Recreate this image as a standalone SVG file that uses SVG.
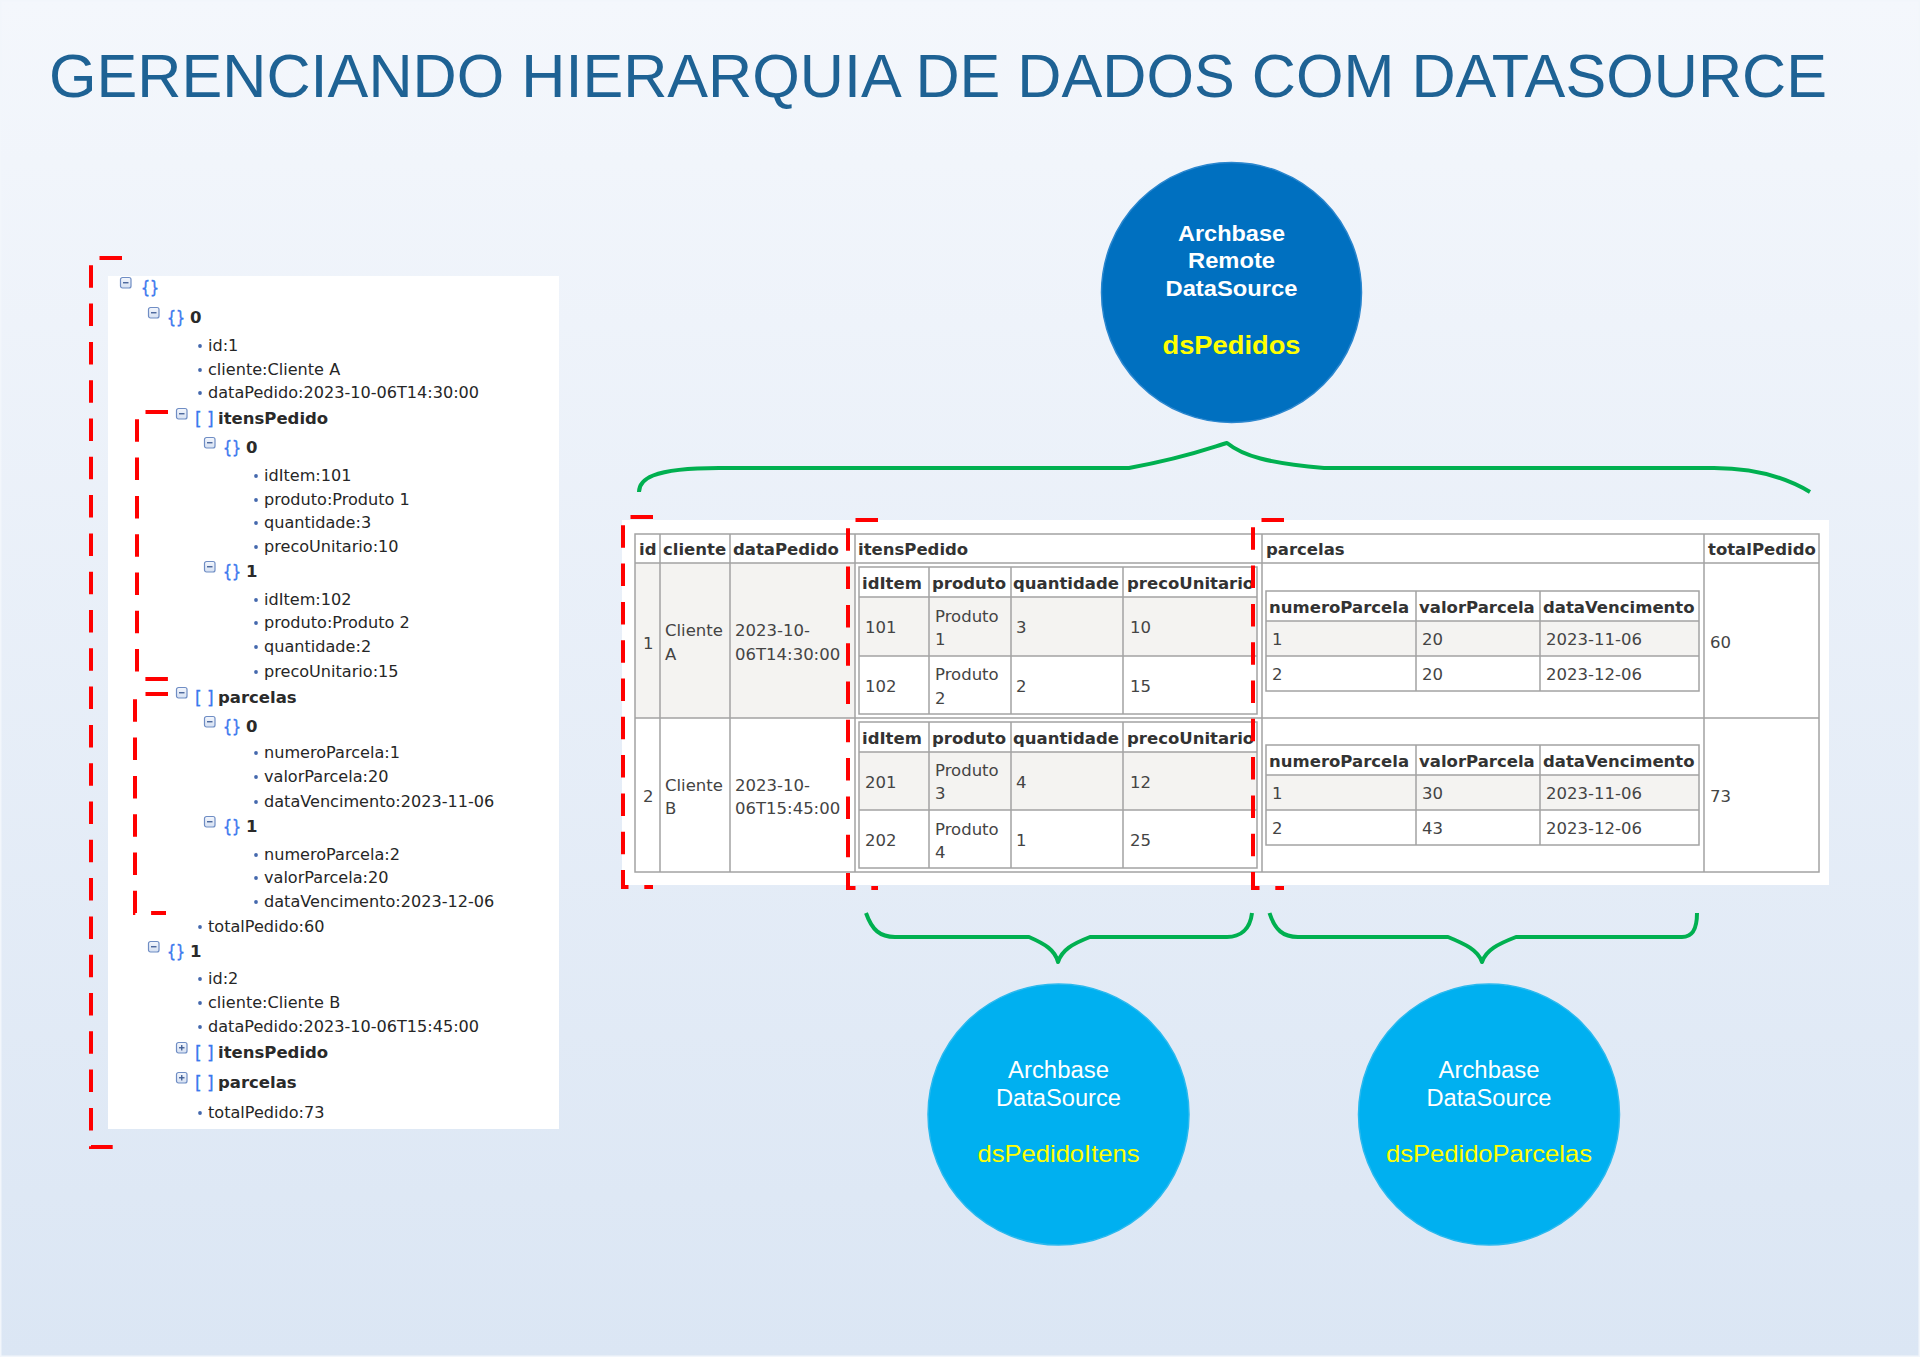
<svg xmlns="http://www.w3.org/2000/svg" xmlns:xlink="http://www.w3.org/1999/xlink" width="1920" height="1357" viewBox="0 0 1920 1357">
<defs>
<linearGradient id="bg" x1="0" y1="0" x2="0" y2="1">
<stop offset="0" stop-color="#F4F7FC"/>
<stop offset="1" stop-color="#DBE6F4"/>
</linearGradient>
<linearGradient id="tg" x1="0" y1="0" x2="0" y2="1">
<stop offset="0" stop-color="#F4F7FD"/>
<stop offset="1" stop-color="#D5E0F2"/>
</linearGradient>
<g id="tmin"><rect x="0.5" y="0.5" width="10.5" height="10.5" rx="2" fill="url(#tg)" stroke="#6F8DC4" stroke-width="1.2"/><line x1="3" y1="5.75" x2="8.5" y2="5.75" stroke="#3E5C94" stroke-width="1.3"/></g>
<g id="tplus"><rect x="0.5" y="0.5" width="10.5" height="10.5" rx="2" fill="url(#tg)" stroke="#6F8DC4" stroke-width="1.2"/><line x1="3" y1="5.75" x2="8.5" y2="5.75" stroke="#3E5C94" stroke-width="1.3"/><line x1="5.75" y1="3" x2="5.75" y2="8.5" stroke="#3E5C94" stroke-width="1.3"/></g>
<circle id="dot" r="1.9" fill="#4468AD"/>
</defs>
<style>
.title{font-family:"Liberation Sans",Arial,sans-serif;font-size:61px;fill:#1E6294}
.tv{font-family:"DejaVu Sans",Verdana,sans-serif;font-size:16.1px;fill:#262626}
.tb{font-family:"DejaVu Sans",Verdana,sans-serif;font-size:16.5px;font-weight:bold;fill:#2A2A2A}
.cb{font-family:"DejaVu Sans",Verdana,sans-serif;font-size:18px;fill:#3A78EE;stroke:#3A78EE;stroke-width:0.5}
.sb{font-family:"DejaVu Sans",Verdana,sans-serif;font-size:17px;fill:#3A78EE;stroke:#3A78EE;stroke-width:0.3}
.th{font-family:"DejaVu Sans",Verdana,sans-serif;font-size:16.5px;font-weight:bold;fill:#333}
.td{font-family:"DejaVu Sans",Verdana,sans-serif;font-size:16.5px;fill:#444}
.grid{fill:none;stroke:#A3A3A3;stroke-width:1.5}
.alt{fill:#F4F3F1}
.red{fill:none;stroke:#FF0000;stroke-width:4;stroke-dasharray:22.5 15.8}
.brace{fill:none;stroke:#00B050;stroke-width:4;stroke-linejoin:round}
.wt{font-family:"Liberation Sans",Arial,sans-serif;font-size:22px;font-weight:bold;fill:#FFFFFF;text-anchor:middle}
.wr{font-family:"Liberation Sans",Arial,sans-serif;font-size:23.5px;fill:#FFFFFF;text-anchor:middle}
.yl{font-family:"Liberation Sans",Arial,sans-serif;fill:#FFFF00;text-anchor:middle}
</style>

<rect x="0" y="0" width="1920" height="1357" fill="url(#bg)"/>
<rect x="0.75" y="0.75" width="1918.5" height="1355.5" fill="none" stroke="#F2F6FB" stroke-width="1.5"/>

<g id="title">
<text class="title" x="49" y="97" textLength="1778" lengthAdjust="spacingAndGlyphs">GERENCIANDO HIERARQUIA DE DADOS COM DATASOURCE</text>
</g>

<g id="json-tree">
<rect x="108" y="276" width="451" height="853" fill="#FFFFFF"/>
<use href="#tmin" x="120" y="277"/><text class="cb" x="141" y="294" textLength="18" lengthAdjust="spacingAndGlyphs">{}</text>
<use href="#tmin" x="148" y="307"/><text class="cb" x="167" y="324" textLength="18" lengthAdjust="spacingAndGlyphs">{}</text><text class="tb" x="190" y="323">0</text>
<use href="#dot" x="200" y="346"/><text class="tv" x="208" y="351">id:1</text>
<use href="#dot" x="200" y="370"/><text class="tv" x="208" y="375">cliente:Cliente A</text>
<use href="#dot" x="200" y="393"/><text class="tv" x="208" y="398">dataPedido:2023-10-06T14:30:00</text>
<use href="#tmin" x="176" y="408"/><text class="sb" x="195" y="425">[ ]</text><text class="tb" x="218" y="424">itensPedido</text>
<use href="#tmin" x="204" y="437"/><text class="cb" x="223" y="454" textLength="18" lengthAdjust="spacingAndGlyphs">{}</text><text class="tb" x="246" y="453">0</text>
<use href="#dot" x="256" y="476"/><text class="tv" x="264" y="481">idItem:101</text>
<use href="#dot" x="256" y="500"/><text class="tv" x="264" y="505">produto:Produto 1</text>
<use href="#dot" x="256" y="523"/><text class="tv" x="264" y="528">quantidade:3</text>
<use href="#dot" x="256" y="547"/><text class="tv" x="264" y="552">precoUnitario:10</text>
<use href="#tmin" x="204" y="561"/><text class="cb" x="223" y="578" textLength="18" lengthAdjust="spacingAndGlyphs">{}</text><text class="tb" x="246" y="577">1</text>
<use href="#dot" x="256" y="600"/><text class="tv" x="264" y="605">idItem:102</text>
<use href="#dot" x="256" y="623"/><text class="tv" x="264" y="628">produto:Produto 2</text>
<use href="#dot" x="256" y="647"/><text class="tv" x="264" y="652">quantidade:2</text>
<use href="#dot" x="256" y="672"/><text class="tv" x="264" y="677">precoUnitario:15</text>
<use href="#tmin" x="176" y="687"/><text class="sb" x="195" y="704">[ ]</text><text class="tb" x="218" y="703">parcelas</text>
<use href="#tmin" x="204" y="716"/><text class="cb" x="223" y="733" textLength="18" lengthAdjust="spacingAndGlyphs">{}</text><text class="tb" x="246" y="732">0</text>
<use href="#dot" x="256" y="753"/><text class="tv" x="264" y="758">numeroParcela:1</text>
<use href="#dot" x="256" y="777"/><text class="tv" x="264" y="782">valorParcela:20</text>
<use href="#dot" x="256" y="802"/><text class="tv" x="264" y="807">dataVencimento:2023-11-06</text>
<use href="#tmin" x="204" y="816"/><text class="cb" x="223" y="833" textLength="18" lengthAdjust="spacingAndGlyphs">{}</text><text class="tb" x="246" y="832">1</text>
<use href="#dot" x="256" y="855"/><text class="tv" x="264" y="860">numeroParcela:2</text>
<use href="#dot" x="256" y="878"/><text class="tv" x="264" y="883">valorParcela:20</text>
<use href="#dot" x="256" y="902"/><text class="tv" x="264" y="907">dataVencimento:2023-12-06</text>
<use href="#dot" x="200" y="927"/><text class="tv" x="208" y="932">totalPedido:60</text>
<use href="#tmin" x="148" y="941"/><text class="cb" x="167" y="958" textLength="18" lengthAdjust="spacingAndGlyphs">{}</text><text class="tb" x="190" y="957">1</text>
<use href="#dot" x="200" y="979"/><text class="tv" x="208" y="984">id:2</text>
<use href="#dot" x="200" y="1003"/><text class="tv" x="208" y="1008">cliente:Cliente B</text>
<use href="#dot" x="200" y="1027"/><text class="tv" x="208" y="1032">dataPedido:2023-10-06T15:45:00</text>
<use href="#tplus" x="176" y="1042"/><text class="sb" x="195" y="1059">[ ]</text><text class="tb" x="218" y="1058">itensPedido</text>
<use href="#tplus" x="176" y="1072"/><text class="sb" x="195" y="1089">[ ]</text><text class="tb" x="218" y="1088">parcelas</text>
<use href="#dot" x="200" y="1113"/><text class="tv" x="208" y="1118">totalPedido:73</text>
</g>

<g id="data-table">
<rect x="622" y="520" width="1207" height="365" fill="#FFFFFF"/>
<rect class="alt" x="635" y="563" width="220" height="155"/>
<rect class="alt" x="859" y="597" width="398" height="59"/>
<rect class="alt" x="859" y="752" width="398" height="58"/>
<rect class="alt" x="1266" y="621" width="433" height="35"/>
<rect class="alt" x="1266" y="775" width="433" height="35"/>
<g class="grid">
<rect x="635" y="534" width="1184" height="338"/>
<path d="M635,563H1819M635,718H1819M660,534V872M730,534V872M855,534V872M1262,534V872M1704,534V872"/>
<rect x="859" y="567" width="398" height="147"/>
<path d="M859,597H1257M859,656H1257M929,567V714M1011,567V714M1123,567V714"/>
<rect x="859" y="722" width="398" height="146"/>
<path d="M859,752H1257M859,810H1257M929,722V868M1011,722V868M1123,722V868"/>
<rect x="1266" y="591" width="433" height="100"/>
<path d="M1266,621H1699M1266,656H1699M1416,591V691M1540,591V691"/>
<rect x="1266" y="745" width="433" height="100"/>
<path d="M1266,775H1699M1266,810H1699M1416,745V845M1540,745V845"/>
</g>
<text class="th" x="639" y="555">id</text>
<text class="th" x="663" y="555">cliente</text>
<text class="th" x="733" y="555">dataPedido</text>
<text class="th" x="858" y="555">itensPedido</text>
<text class="th" x="1266" y="555">parcelas</text>
<text class="th" x="1708" y="555">totalPedido</text>
<text class="td" x="643" y="649">1</text>
<text class="td" x="665" y="636">Cliente</text><text class="td" x="665" y="660">A</text>
<text class="td" x="735" y="636">2023-10-</text><text class="td" x="735" y="660">06T14:30:00</text>
<text class="td" x="643" y="802">2</text>
<text class="td" x="665" y="791">Cliente</text><text class="td" x="665" y="814">B</text>
<text class="td" x="735" y="791">2023-10-</text><text class="td" x="735" y="814">06T15:45:00</text>
<text class="th" x="862" y="589">idItem</text><text class="th" x="932" y="589">produto</text><text class="th" x="1013" y="589">quantidade</text><text class="th" x="1127" y="589">precoUnitario</text>
<text class="td" x="865" y="633">101</text><text class="td" x="935" y="622">Produto</text><text class="td" x="935" y="645">1</text><text class="td" x="1016" y="633">3</text><text class="td" x="1130" y="633">10</text>
<text class="td" x="865" y="692">102</text><text class="td" x="935" y="680">Produto</text><text class="td" x="935" y="704">2</text><text class="td" x="1016" y="692">2</text><text class="td" x="1130" y="692">15</text>
<text class="th" x="862" y="744">idItem</text><text class="th" x="932" y="744">produto</text><text class="th" x="1013" y="744">quantidade</text><text class="th" x="1127" y="744">precoUnitario</text>
<text class="td" x="865" y="788">201</text><text class="td" x="935" y="776">Produto</text><text class="td" x="935" y="799">3</text><text class="td" x="1016" y="788">4</text><text class="td" x="1130" y="788">12</text>
<text class="td" x="865" y="846">202</text><text class="td" x="935" y="835">Produto</text><text class="td" x="935" y="858">4</text><text class="td" x="1016" y="846">1</text><text class="td" x="1130" y="846">25</text>
<text class="th" x="1269" y="613">numeroParcela</text><text class="th" x="1419" y="613">valorParcela</text><text class="th" x="1543" y="613">dataVencimento</text>
<text class="td" x="1272" y="645">1</text><text class="td" x="1422" y="645">20</text><text class="td" x="1546" y="645">2023-11-06</text>
<text class="td" x="1272" y="680">2</text><text class="td" x="1422" y="680">20</text><text class="td" x="1546" y="680">2023-12-06</text>
<text class="th" x="1269" y="767">numeroParcela</text><text class="th" x="1419" y="767">valorParcela</text><text class="th" x="1543" y="767">dataVencimento</text>
<text class="td" x="1272" y="799">1</text><text class="td" x="1422" y="799">30</text><text class="td" x="1546" y="799">2023-11-06</text>
<text class="td" x="1272" y="834">2</text><text class="td" x="1422" y="834">43</text><text class="td" x="1546" y="834">2023-12-06</text>
<text class="td" x="1710" y="648">60</text>
<text class="td" x="1710" y="802">73</text>
</g>

<g id="highlights">
<path class="red" d="M122,258H91V1147H115"/>
<path class="red" d="M168,412H137V679H168"/>
<path class="red" d="M168,694H135V913H166"/>
<path class="red" d="M653,517H623V887H653"/>
<path class="red" d="M878,520H848V888H878"/>
<path class="red" d="M1284,520H1253V888H1284"/>
</g>

<g id="connectors">
<path class="brace" d="M639,492C639,480 650,468 719,468H1129C1185,458 1210,448 1227,443C1243,456 1268,463 1324,468H1714C1760,468 1790,480 1810,492"/>
<path class="brace" d="M866,913C872,930 880,937 895,937H1029C1045,944 1055,950 1058,962C1062,950 1072,944 1090,937H1227C1240,937 1250,930 1252,913"/>
<path class="brace" d="M1269.5,913C1275,930 1283,937 1298,937H1448C1465,944 1478,950 1482,962C1486,950 1498,944 1516,937H1682C1692,937 1697,930 1697,913"/>
</g>

<g id="node-dsPedidos">
<circle cx="1231.5" cy="292.5" r="130" fill="#0070C0" stroke="#2A86CE" stroke-width="1.5"/>
<text class="wt" x="1231.5" y="241" textLength="107" lengthAdjust="spacingAndGlyphs">Archbase</text>
<text class="wt" x="1231.5" y="268" textLength="87" lengthAdjust="spacingAndGlyphs">Remote</text>
<text class="wt" x="1231.5" y="296" textLength="132" lengthAdjust="spacingAndGlyphs">DataSource</text>
<text class="yl" x="1231.5" y="354" font-size="26" font-weight="bold" textLength="138" lengthAdjust="spacingAndGlyphs">dsPedidos</text>
</g>

<g id="node-dsPedidoItens">
<circle cx="1058.5" cy="1114.5" r="130.5" fill="#00B0F0" stroke="#2BB9EE" stroke-width="1.5"/>
<text class="wr" x="1058.5" y="1078" textLength="101" lengthAdjust="spacingAndGlyphs">Archbase</text>
<text class="wr" x="1058.5" y="1106" textLength="125" lengthAdjust="spacingAndGlyphs">DataSource</text>
<text class="yl" x="1058.5" y="1162" font-size="24" textLength="162" lengthAdjust="spacingAndGlyphs">dsPedidoItens</text>
</g>

<g id="node-dsPedidoParcelas">
<circle cx="1489" cy="1114.5" r="130.5" fill="#00B0F0" stroke="#2BB9EE" stroke-width="1.5"/>
<text class="wr" x="1489" y="1078" textLength="101" lengthAdjust="spacingAndGlyphs">Archbase</text>
<text class="wr" x="1489" y="1106" textLength="125" lengthAdjust="spacingAndGlyphs">DataSource</text>
<text class="yl" x="1489" y="1162" font-size="24" textLength="206" lengthAdjust="spacingAndGlyphs">dsPedidoParcelas</text>
</g>
</svg>
